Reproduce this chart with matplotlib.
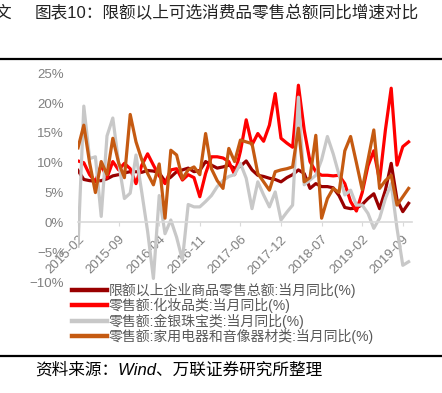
import matplotlib
matplotlib.use('Agg')
import matplotlib.pyplot as plt

plt.rcParams['font.family'] = ['Liberation Sans', 'Noto Sans CJK SC']

# 数据：2015-02 起按月
total = [8.7, 7.2, 7.0, 6.9, 7.0, 7.3, 7.8, 8.0, 8.3, 8.5,
         8.5, 8.4, 8.7, 8.6, 8.3, 6.9, 7.6, 8.5, 8.8, 9.1,
         8.5, 8.7, 10.2, 9.6, 9.1, 9.3, 9.6, 9.1, 9.4, 10.3,
         8.8, 7.9, 7.7, 7.4, 7.2, 6.8, 7.5, 8.0, 8.8, 8.2,
         5.7, 6.5, 6.0, 6.0, 5.8, 4.5, 2.5, 2.3, 2.4, 3.0,
         4.0, 4.8, 2.3, 5.4, 9.9, 3.8, 1.8, 3.2]
cosmetics = [10.3, 10.0, 8.0, 6.8, 9.6, 7.5, 10.2, 8.8, 9.9, 9.0,
             6.5, 9.6, 11.5, 9.6, 7.8, 6.5, 8.8, 9.0, 7.1, 8.0,
             7.5, 4.3, 8.2, 11.0, 11.0, 10.8, 10.2, 8.0, 11.9, 17.2,
             13.0, 14.9, 13.6, 16.3, 21.6, 14.1, 13.3, 12.6, 23.0, 15.5,
             10.2, 8.5, 7.9, 7.9, 7.8, 7.9, 6.5, 3.5, 1.9, 5.0,
             9.5, 12.0, 7.0, 15.5, 22.5, 9.6, 12.7, 13.5]
jewelry = [-4.0, 19.5, 10.7, 11.0, 1.0, 14.5, 17.5, 10.0, 4.0, 4.9,
           11.3, 5.0, -1.5, -9.4, 4.5, -1.9, 0.4, -2.5, -6.3, 3.0,
           2.6, 2.6, 3.5, 4.5, 6.0, 7.0, 7.7, 8.0, 9.9, 7.4,
           2.3, 6.8, 4.6, 2.6, 5.1, 0.4, 1.7, 2.9, 21.0, 6.3,
           7.1, 7.9, 10.5, 14.4, 11.5, 8.0, 4.6, 5.4, 2.9, 2.9,
           1.5, -1.0, 0.7, 4.0, 6.5, -1.0, -7.2, -6.6]
appliances = [12.5, 16.3, 10.0, 5.0, 10.2, 8.0, 14.1, 10.0, 7.5, 18.1,
              13.5, 10.5, 8.2, 6.3, 9.8, 0.7, 12.1, 11.3, 7.3, 8.8,
              9.3, 8.0, 14.9, 9.0, 7.0, 5.7, 12.4, 10.2, 13.8, 13.5,
              13.2, 8.2, 6.8, 5.4, 8.5, 8.8, 9.0, 9.3, 15.8, 6.8,
              7.5, 14.6, 0.7, 4.0, 5.7, 5.0, 12.0, 14.4, 10.0, 5.5,
              10.5, 15.5, 5.7, 7.0, 7.9, 2.9, 4.3, 5.7]

series_names = ['限额以上企业商品零售总额:当月同比(%)',
                '零售额:化妆品类:当月同比(%)',
                '零售额:金银珠宝类:当月同比(%)',
                '零售额:家用电器和音像器材类:当月同比(%)']
colors = ['#990000', '#FF0000', '#C8C8C8', '#C55A11']

x_labels = ['2015-02', '2015-09', '2016-04', '2016-11', '2017-06',
            '2017-12', '2018-07', '2019-02', '2019-09']
y_ticks = [-10, -5, 0, 5, 10, 15, 20, 25]
y_labels = ['\u221210%', '\u22125%', '0%', '5%', '10%', '15%', '20%', '25%']

fig = plt.figure(figsize=(4.42, 3.93), dpi=100)
ax = fig.add_axes([0.1765, 0.2824, 0.7545, 0.5311])

xs = list(range(len(total)))
for ys, c, name in zip([total, cosmetics, jewelry, appliances], colors, series_names):
    ax.plot(xs, ys, color=c, lw=2.3, label=name)

ax.set_xlim(0, 57.5)
ax.set_ylim(-10, 25)
ax.set_yticks(y_ticks)
ax.set_yticklabels(y_labels)
ax.set_xticks(range(0, 7 * len(x_labels), 7))
ax.set_xticklabels(x_labels)

for s in ['top', 'right', 'left']:
    ax.spines[s].set_visible(False)
ax.spines['bottom'].set_position(('data', 0))
ax.spines['bottom'].set_color('#D9D9D9')
ax.spines['bottom'].set_linewidth(1.2)
ax.tick_params(axis='y', length=0, labelsize=9.5, labelcolor='#7F7F7F', pad=10)
ax.tick_params(axis='x', length=3, color='#D9D9D9', labelsize=9.5,
               labelcolor='#7F7F7F', pad=5, labelrotation=45)
for lab in ax.get_xticklabels():
    lab.set_ha('right')
    lab.set_va('top')
    lab.set_rotation_mode('anchor')

leg = ax.legend(loc='upper left', bbox_to_anchor=(0.163, 0.28),
                bbox_transform=fig.transFigure, frameon=False, fontsize=10,
                handlelength=2.5, handletextpad=0.15, labelspacing=0.0,
                borderpad=0, borderaxespad=0)
for t in leg.get_texts():
    t.set_color('#595959')
for h in leg.get_lines():
    h.set_linewidth(3.2)

# 标题、分隔线、资料来源
fig.text(0.079, 0.966, '图表10：限额以上可选消费品零售总额同比增速对比',
         fontsize=12, color='#222222', va='center')
fig.text(-0.012, 0.966, '文', fontsize=12, color='#222222', va='center')
fig.add_artist(plt.Line2D([0, 1], [0.849, 0.849], color='black', lw=1.6,
                          transform=fig.transFigure))
fig.add_artist(plt.Line2D([0, 1], [0.095, 0.095], color='black', lw=1.6,
                          transform=fig.transFigure))
fig.text(0.079, 0.058, '资料来源：Wind、万联证券研究所整理', fontsize=12,
         color='black', va='center', style='italic')

fig.savefig('out.png', dpi=100)
